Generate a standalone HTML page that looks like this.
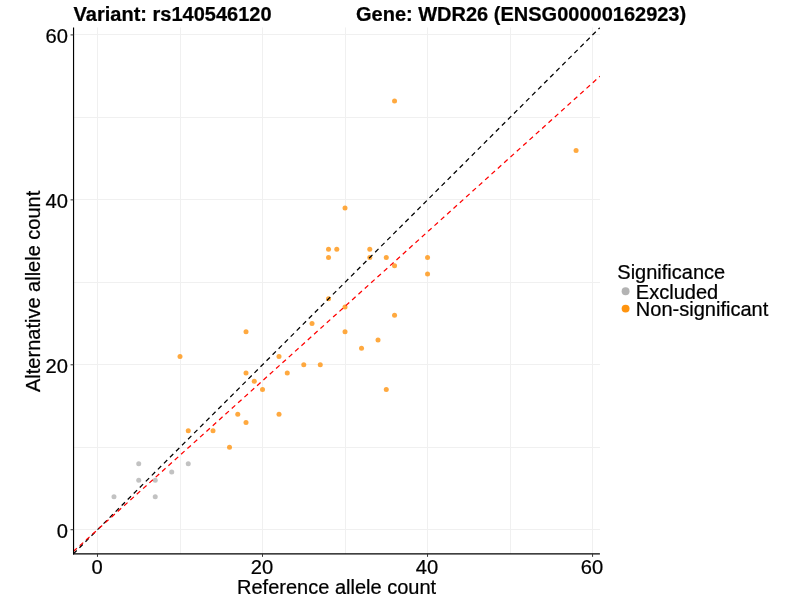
<!DOCTYPE html>
<html><head><meta charset="utf-8"><title>Allele counts</title>
<style>
html,body{margin:0;padding:0;background:#fff;}
body{width:800px;height:600px;overflow:hidden;font-family:"Liberation Sans",sans-serif;}
svg{display:block;will-change:transform;}
text{font-family:"Liberation Sans",sans-serif;fill:#000;stroke:#000;stroke-width:0.24px;}
</style></head><body>
<svg width="800" height="600" viewBox="0 0 800 600">
<defs><clipPath id="pc"><rect x="73.55" y="27.5" width="526.45" height="526.15"/></clipPath></defs>
<g fill="#f0f0f0">
<rect x="97" y="27.5" width="1" height="526.1"/>
<rect x="73.55" y="529" width="526.5" height="1"/>
<rect x="180" y="27.5" width="1" height="526.1"/>
<rect x="73.55" y="447" width="526.5" height="1"/>
<rect x="262" y="27.5" width="1" height="526.1"/>
<rect x="73.55" y="364" width="526.5" height="1"/>
<rect x="345" y="27.5" width="1" height="526.1"/>
<rect x="73.55" y="282" width="526.5" height="1"/>
<rect x="427" y="27.5" width="1" height="526.1"/>
<rect x="73.55" y="199" width="526.5" height="1"/>
<rect x="510" y="27.5" width="1" height="526.1"/>
<rect x="73.55" y="117" width="526.5" height="1"/>
<rect x="592" y="27.5" width="1" height="526.1"/>
<rect x="73.55" y="34" width="526.5" height="1"/>
</g>
<g fill="#b3b3b3" fill-opacity="0.8">
<circle cx="113.98" cy="496.75" r="2.5"/>
<circle cx="138.74" cy="463.76" r="2.5"/>
<circle cx="138.74" cy="480.25" r="2.5"/>
<circle cx="155.24" cy="480.25" r="2.5"/>
<circle cx="155.24" cy="496.75" r="2.5"/>
<circle cx="171.74" cy="472.01" r="2.5"/>
<circle cx="188.25" cy="463.76" r="2.5"/>
</g>
<g fill="#ff940f" fill-opacity="0.8">
<circle cx="394.54" cy="100.90" r="2.5"/>
<circle cx="576.07" cy="150.38" r="2.5"/>
<circle cx="345.03" cy="208.11" r="2.5"/>
<circle cx="328.52" cy="249.34" r="2.5"/>
<circle cx="336.78" cy="249.34" r="2.5"/>
<circle cx="328.52" cy="257.59" r="2.5"/>
<circle cx="369.78" cy="249.34" r="2.5"/>
<circle cx="369.78" cy="257.59" r="2.5"/>
<circle cx="386.28" cy="257.59" r="2.5"/>
<circle cx="394.54" cy="265.83" r="2.5"/>
<circle cx="427.54" cy="257.59" r="2.5"/>
<circle cx="427.54" cy="274.08" r="2.5"/>
<circle cx="328.52" cy="298.82" r="2.5"/>
<circle cx="345.03" cy="307.07" r="2.5"/>
<circle cx="394.54" cy="315.32" r="2.5"/>
<circle cx="312.02" cy="323.56" r="2.5"/>
<circle cx="345.03" cy="331.81" r="2.5"/>
<circle cx="246.01" cy="331.81" r="2.5"/>
<circle cx="378.03" cy="340.06" r="2.5"/>
<circle cx="361.53" cy="348.30" r="2.5"/>
<circle cx="180.00" cy="356.55" r="2.5"/>
<circle cx="279.01" cy="356.55" r="2.5"/>
<circle cx="303.77" cy="364.80" r="2.5"/>
<circle cx="320.27" cy="364.80" r="2.5"/>
<circle cx="246.01" cy="373.04" r="2.5"/>
<circle cx="287.27" cy="373.04" r="2.5"/>
<circle cx="254.26" cy="381.29" r="2.5"/>
<circle cx="262.51" cy="389.54" r="2.5"/>
<circle cx="386.28" cy="389.54" r="2.5"/>
<circle cx="237.76" cy="414.28" r="2.5"/>
<circle cx="279.01" cy="414.28" r="2.5"/>
<circle cx="246.01" cy="422.52" r="2.5"/>
<circle cx="188.25" cy="430.77" r="2.5"/>
<circle cx="213.00" cy="430.77" r="2.5"/>
<circle cx="229.50" cy="447.27" r="2.5"/>
</g>
<g clip-path="url(#pc)" fill="none" stroke-width="1.25" stroke-dasharray="4.7 3.833" stroke-dashoffset="0.22">
<line x1="73.55" y1="553.65" x2="600.00" y2="27.50" stroke="#000"/>
<line x1="73.55" y1="551.33" x2="600.00" y2="76.22" stroke="#ff0000"/>
</g>
<g stroke="#000" fill="none">
<line x1="73.55" y1="27.5" x2="73.55" y2="554.6" stroke-width="1.15"/>
<line x1="72.98" y1="553.9499999999999" x2="599.9" y2="553.9499999999999" stroke-width="1.3"/>
</g>
<g stroke="#333" stroke-width="1">
<line x1="97.48" y1="553.9499999999999" x2="97.48" y2="556.85"/>
<line x1="70.55" y1="529.73" x2="73.55" y2="529.73"/>
<line x1="262.51" y1="553.9499999999999" x2="262.51" y2="556.85"/>
<line x1="70.55" y1="364.8" x2="73.55" y2="364.8"/>
<line x1="427.54" y1="553.9499999999999" x2="427.54" y2="556.85"/>
<line x1="70.55" y1="199.86" x2="73.55" y2="199.86"/>
<line x1="592.57" y1="553.9499999999999" x2="592.57" y2="556.85"/>
<line x1="70.55" y1="34.92" x2="73.55" y2="34.92"/>
</g>
<g font-size="20.15">
<text x="96.98" y="573.95" text-anchor="middle">0</text>
<text x="67.85" y="537.83" text-anchor="end">0</text>
<text x="262.01" y="573.95" text-anchor="middle">20</text>
<text x="67.85" y="372.90" text-anchor="end">20</text>
<text x="427.04" y="573.95" text-anchor="middle">40</text>
<text x="67.85" y="207.96" text-anchor="end">40</text>
<text x="592.07" y="573.95" text-anchor="middle">60</text>
<text x="67.85" y="43.02" text-anchor="end">60</text>
</g>
<text x="336.57" y="593.5" font-size="20" text-anchor="middle">Reference allele count</text>
<text transform="translate(39.7,291.38) rotate(-90)" font-size="20" text-anchor="middle">Alternative allele count</text>
<text x="73.6" y="20.6" font-size="20" font-weight="bold" xml:space="preserve">Variant: rs140546120</text>
<text x="356" y="20.6" font-size="20" font-weight="bold" xml:space="preserve">Gene: WDR26 (ENSG00000162923)</text>
<text x="617.3" y="278.9" font-size="20">Significance</text>
<circle cx="625.6" cy="291.3" r="3.95" fill="#b3b3b3"/>
<circle cx="625.6" cy="308.6" r="3.95" fill="#ff940f"/>
<text x="635.8" y="298.7" font-size="20.05">Excluded</text>
<text x="635.8" y="316" font-size="20.05">Non-significant</text>
</svg>
</body></html>
